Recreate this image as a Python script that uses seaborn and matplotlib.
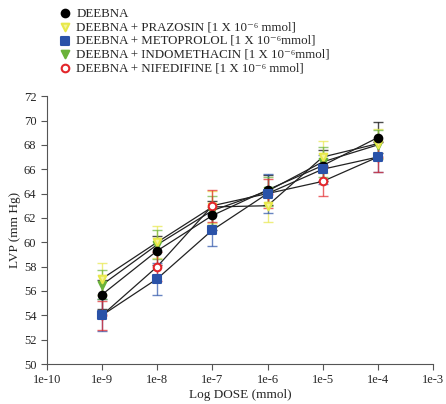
import numpy as np
import pandas as pd
import matplotlib
matplotlib.use("Agg")
import matplotlib.pyplot as plt
import seaborn as sns

doses = [1e-9, 1e-8, 1e-7, 1e-6, 1e-5, 1e-4]
series = ["DEEBNA",
          "DEEBNA + PRAZOSIN [1 X 10⁻⁶ mmol]",
          "DEEBNA + METOPROLOL [1 X 10⁻⁶mmol]",
          "DEEBNA + INDOMETHACIN [1 X 10⁻⁶mmol]",
          "DEEBNA + NIFEDIFINE [1 X 10⁻⁶ mmol]"]
deebna = [55.7, 59.3, 62.2, 64.3, 66.3, 68.6]
prazosin = [57.0, 60.0, 62.9, 63.0, 67.0, 68.1]
metoprolol = [54.0, 57.0, 61.0, 64.0, 66.0, 67.0]
indomethacin = [56.5, 59.8, 62.6, 64.2, 66.6, 68.0]
nifedifine = [54.0, 58.0, 63.0, 64.0, 65.0, 67.0]
err_deebna = [1.2, 1.2, 1.2, 1.2, 1.3, 1.3]
err_prazosin = [1.3, 1.3, 1.3, 1.3, 1.3, 1.2]
err_metoprolol = [1.3, 1.3, 1.3, 1.6, 1.2, 1.2]
err_indomethacin = [1.2, 1.2, 1.2, 1.2, 1.2, 1.2]
err_nifedifine = [1.2, 1.2, 1.3, 1.2, 1.2, 1.2]

values = [deebna, prazosin, metoprolol, indomethacin, nifedifine]
errors = [err_deebna, err_prazosin, err_metoprolol, err_indomethacin, err_nifedifine]
colors = ["black", "#e8e84a", "#2a52a8", "#6ab23a", "#e3262b"]
markers = ["o", "v", "s", "v", "o"]
faces = ["black", "#f4f49a", "#2a52a8", "#6ab23a", "white"]
# drawing order so that overlapping points look like the original
zorders = [4.4, 4.2, 4.5, 4.1, 4.3]

rows = []
for name, vals in zip(series, values):
    for d, v in zip(doses, vals):
        rows.append({"dose": d, "lvp": v, "group": name})
df = pd.DataFrame(rows)

sns.set_style("ticks")
plt.rcParams["font.family"] = ["Liberation Serif", "DejaVu Serif"]

fig = plt.figure(figsize=(4.46, 4.04), dpi=100)
ax = fig.add_axes([0.105, 0.099, 0.866, 0.663])

sns.lineplot(data=df, x="dose", y="lvp", units="group", estimator=None,
             color="#222222", lw=0.9, ax=ax, legend=False, zorder=2)

handles = []
for name, vals, errs, c, m, fc, z in zip(series, values, errors, colors, markers, faces, zorders):
    ax.errorbar(doses, vals, yerr=errs, fmt="none", ecolor=c, elinewidth=1.0,
                capsize=3.5, capthick=1.0, alpha=0.7, zorder=3)
    h = ax.scatter(doses, vals, marker=m, s=30, facecolor=fc, edgecolor=c,
                   linewidth=1.5, zorder=z, label=name)
    handles.append(h)

ax.set_xscale("log")
ax.set_xlim(1e-10, 1e-3)
xt = [1e-10, 1e-9, 1e-8, 1e-7, 1e-6, 1e-5, 1e-4, 1e-3]
ax.set_xticks(xt)
ax.set_xticklabels(["1e-10", "1e-9", "1e-8", "1e-7", "1e-6", "1e-5", "1e-4", "1e-3"])
ax.minorticks_off()
ax.set_ylim(50, 72)
ax.set_yticks(np.arange(50, 73, 2))
ax.set_xlabel("Log DOSE (mmol)", fontsize=9.5, labelpad=2)
ax.set_ylabel("LVP (mm Hg)", fontsize=9.5, labelpad=2)
ax.tick_params(labelsize=9, length=4, color="#555555")
sns.despine(ax=ax)
for s in ["left", "bottom"]:
    ax.spines[s].set_color("#555555")

fig.legend(handles=handles, labels=series, loc="upper left",
           bbox_to_anchor=(0.11, 1.0), frameon=False, fontsize=9.3,
           handletextpad=0.3, labelspacing=0.12, borderaxespad=0.2,
           handlelength=1.2)

fig.savefig("out.png", dpi=100)
